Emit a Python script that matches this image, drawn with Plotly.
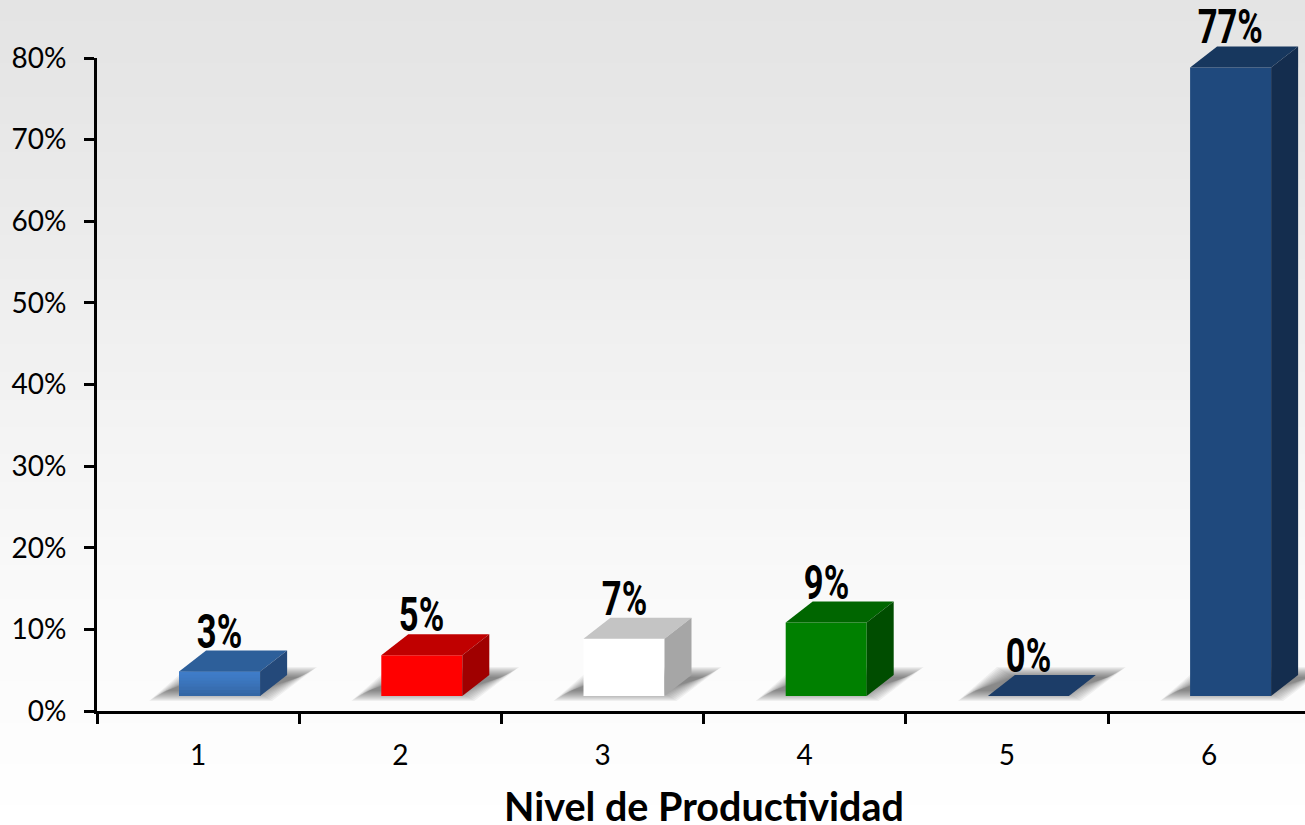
import plotly.graph_objects as go

# values
levels = [1, 2, 3, 4, 5, 6]
values = [3, 5, 7, 9, 0, 77]
labels = ["3%", "5%", "7%", "9%", "0%", "77%"]
front_colors = ["#3b76bd", "#ff0000", "#ffffff", "#008000", "#1c3d68", "#1f497d"]
top_colors = ["#2d5f9a", "#c00000", "#c4c4c4", "#006600", "#1c3d68", "#17375e"]
side_colors = ["#24497a", "#a00000", "#a6a6a6", "#004d00", "#1c3d68", "#142d4e"]
bar1_shades = ["#3f7cc8", "#3e7ac5", "#3d78c1", "#3b75bc", "#3a72b7", "#386eb1", "#366aaa", "#3467a5"]
y_ticks = [0, 10, 20, 30, 40, 50, 60, 70, 80]
y_tick_labels = ["0%", "10%", "20%", "30%", "40%", "50%", "60%", "70%", "80%"]
x_boundaries = [0.5, 1.5, 2.5, 3.5, 4.5, 5.5]
bg_greys = [228, 230, 233, 236, 240, 243, 246, 249, 251, 253, 255]

W, H = 1305, 825
left, right, top, bottom = 97, 1305, 58, 711
px_per_cat = 202.2
px_per_pct = (bottom - top) / 80

# fake 3d look of the bars, all in axis units
bar_w = 81 / px_per_cat
bar_shift = 21.5 / px_per_cat
floor = 15 / px_per_pct
dx = 27 / px_per_cat
dy = 21 / px_per_pct

# the marks go on a see through full page copy of the axes, so nothing gets cut at 80%
marks_x_range = [0.5 - left / px_per_cat, 0.5 + (W - left) / px_per_cat]
marks_y_range = [-(H - bottom) / px_per_pct, bottom / px_per_pct]

fig = go.Figure()

# page background gradient
fig.add_trace(go.Heatmap(
    x=[0, 1], y=list(range(len(bg_greys))),
    z=[[g, g] for g in bg_greys[::-1]],
    zmin=0, zmax=255, colorscale=[[0, "black"], [1, "white"]],
    zsmooth="best", showscale=False, hoverinfo="skip",
    xaxis="x", yaxis="y",
))

# empty trace so the visible axes get drawn
fig.add_trace(go.Scatter(x=[1], y=[0], mode="markers", marker=dict(opacity=0),
                         xaxis="x2", yaxis="y2", hoverinfo="skip"))

# front faces
fig.add_trace(go.Bar(
    x=[c + bar_shift for c in levels], y=values,
    base=floor, width=bar_w,
    marker=dict(color=front_colors, line=dict(width=0)),
    xaxis="x3", yaxis="y3", hoverinfo="skip",
))

# first bar has a light gradient on its front, shorter and darker bars on top of each other
n = len(bar1_shades)
for i, shade in enumerate(bar1_shades):
    fig.add_trace(go.Bar(
        x=[levels[0] + bar_shift], y=[values[0] * (n - i) / n],
        base=floor, width=bar_w,
        marker=dict(color=shade, line=dict(width=0)),
        xaxis="x3", yaxis="y3", hoverinfo="skip",
    ))

# top and side faces
for c, v, tc, sc in zip(levels, values, top_colors, side_colors):
    x0 = c + bar_shift - bar_w / 2
    x1 = x0 + bar_w
    y0 = floor
    y1 = floor + v
    fig.add_trace(go.Scatter(
        x=[x0, x1, x1 + dx, x0 + dx, x0], y=[y1, y1, y1 + dy, y1 + dy, y1],
        mode="lines", fill="toself", fillcolor=tc, line=dict(width=0),
        xaxis="x3", yaxis="y3", hoverinfo="skip",
    ))
    if v > 0:
        fig.add_trace(go.Scatter(
            x=[x1, x1 + dx, x1 + dx, x1, x1], y=[y0, y0 + dy, y1 + dy, y1, y0],
            mode="lines", fill="toself", fillcolor=sc, line=dict(width=0),
            xaxis="x3", yaxis="y3", hoverinfo="skip",
        ))

# soft floor shadows, stacked see through shapes
shapes = []
for c in levels:
    x0 = c + bar_shift - bar_w / 2
    for step in range(11):
        ins_x = (step * 1.6) / px_per_cat
        ins_y = (step * 1.0) / px_per_pct
        xs = [x0 - 30 / px_per_cat + ins_x, x0 + 93 / px_per_cat - ins_x,
              x0 + 138 / px_per_cat - ins_x, x0 + 9 / px_per_cat + ins_x]
        ys = [floor - 5 / px_per_pct + ins_y, floor - 5 / px_per_pct + ins_y,
              floor + 29 / px_per_pct - ins_y, floor + 29 / px_per_pct - ins_y]
        path = "M" + " L".join(f"{a},{b}" for a, b in zip(xs, ys)) + " Z"
        shapes.append(dict(type="path", path=path, xref="x3", yref="y3", layer="between",
                           fillcolor="rgba(0,0,0,0.05)", line=dict(width=0)))

# value labels
annotations = []
for c, v, lab in zip(levels, values, labels):
    annotations.append(dict(
        x=c + bar_shift, y=floor + v + dy, xref="x3", yref="y3",
        text=lab, showarrow=False, xanchor="center", yanchor="bottom", yshift=-11,
        font=dict(family="Roboto", size=48, color="black", weight="bold"),
    ))
annotations.append(dict(
    x=704 / W, y=(H - 805) / H, xref="paper", yref="paper",
    text="<b>Nivel de Productividad</b>", showarrow=False, xanchor="center", yanchor="middle",
    font=dict(family="Lato", size=39.5, color="black"),
))

fig.update_layout(
    width=W, height=H,
    margin=dict(l=0, r=0, t=0, b=0, autoexpand=False),
    showlegend=False, barmode="overlay",
    paper_bgcolor="white", plot_bgcolor="rgba(0,0,0,0)",
    shapes=shapes, annotations=annotations,
    xaxis=dict(domain=[0, 1], range=[0, 1], visible=False, fixedrange=True),
    yaxis=dict(domain=[0, 1], range=[0, len(bg_greys) - 1], visible=False, fixedrange=True),
    xaxis2=dict(
        domain=[left / W, right / W], anchor="y2",
        range=[0.5, 0.5 + (right - left) / px_per_cat],
        tickvals=levels, ticktext=[str(c) for c in levels], ticks="",
        minor=dict(tickvals=x_boundaries, ticks="outside", ticklen=10, tickwidth=3, tickcolor="black", showgrid=False),
        showgrid=False, zeroline=False, showline=True, linecolor="black", linewidth=3,
        tickfont=dict(family="Lato", size=28, color="black"),
        ticklabelstandoff=17, automargin=False,
    ),
    yaxis2=dict(
        domain=[(H - bottom) / H, (H - top) / H], anchor="x2",
        range=[0, 80],
        tickvals=y_ticks, ticktext=y_tick_labels,
        ticks="outside", ticklen=10, tickwidth=3, tickcolor="black",
        showgrid=False, zeroline=False, showline=True, linecolor="black", linewidth=3,
        tickfont=dict(family="Lato", size=28, color="black"),
        ticklabelstandoff=12, automargin=False,
    ),
    xaxis3=dict(domain=[0, 1], range=marks_x_range, visible=False, fixedrange=True, anchor="y3"),
    yaxis3=dict(domain=[0, 1], range=marks_y_range, visible=False, fixedrange=True, anchor="x3"),
)

# squeeze the value labels, the original uses a condensed face
squeeze = """
document.body.style.margin = '0';
document.body.style.fontVariantLigatures = 'none';
document.querySelectorAll('.annotation-text').forEach(function (el) {
    if (el.textContent.endsWith('%')) {
        el.setAttribute('lengthAdjust', 'spacingAndGlyphs');
        el.setAttribute('textLength', el.getComputedTextLength() * 0.72);
    }
});
"""
fig.write_html("out.html", config=dict(displayModeBar=False), post_script=squeeze)
